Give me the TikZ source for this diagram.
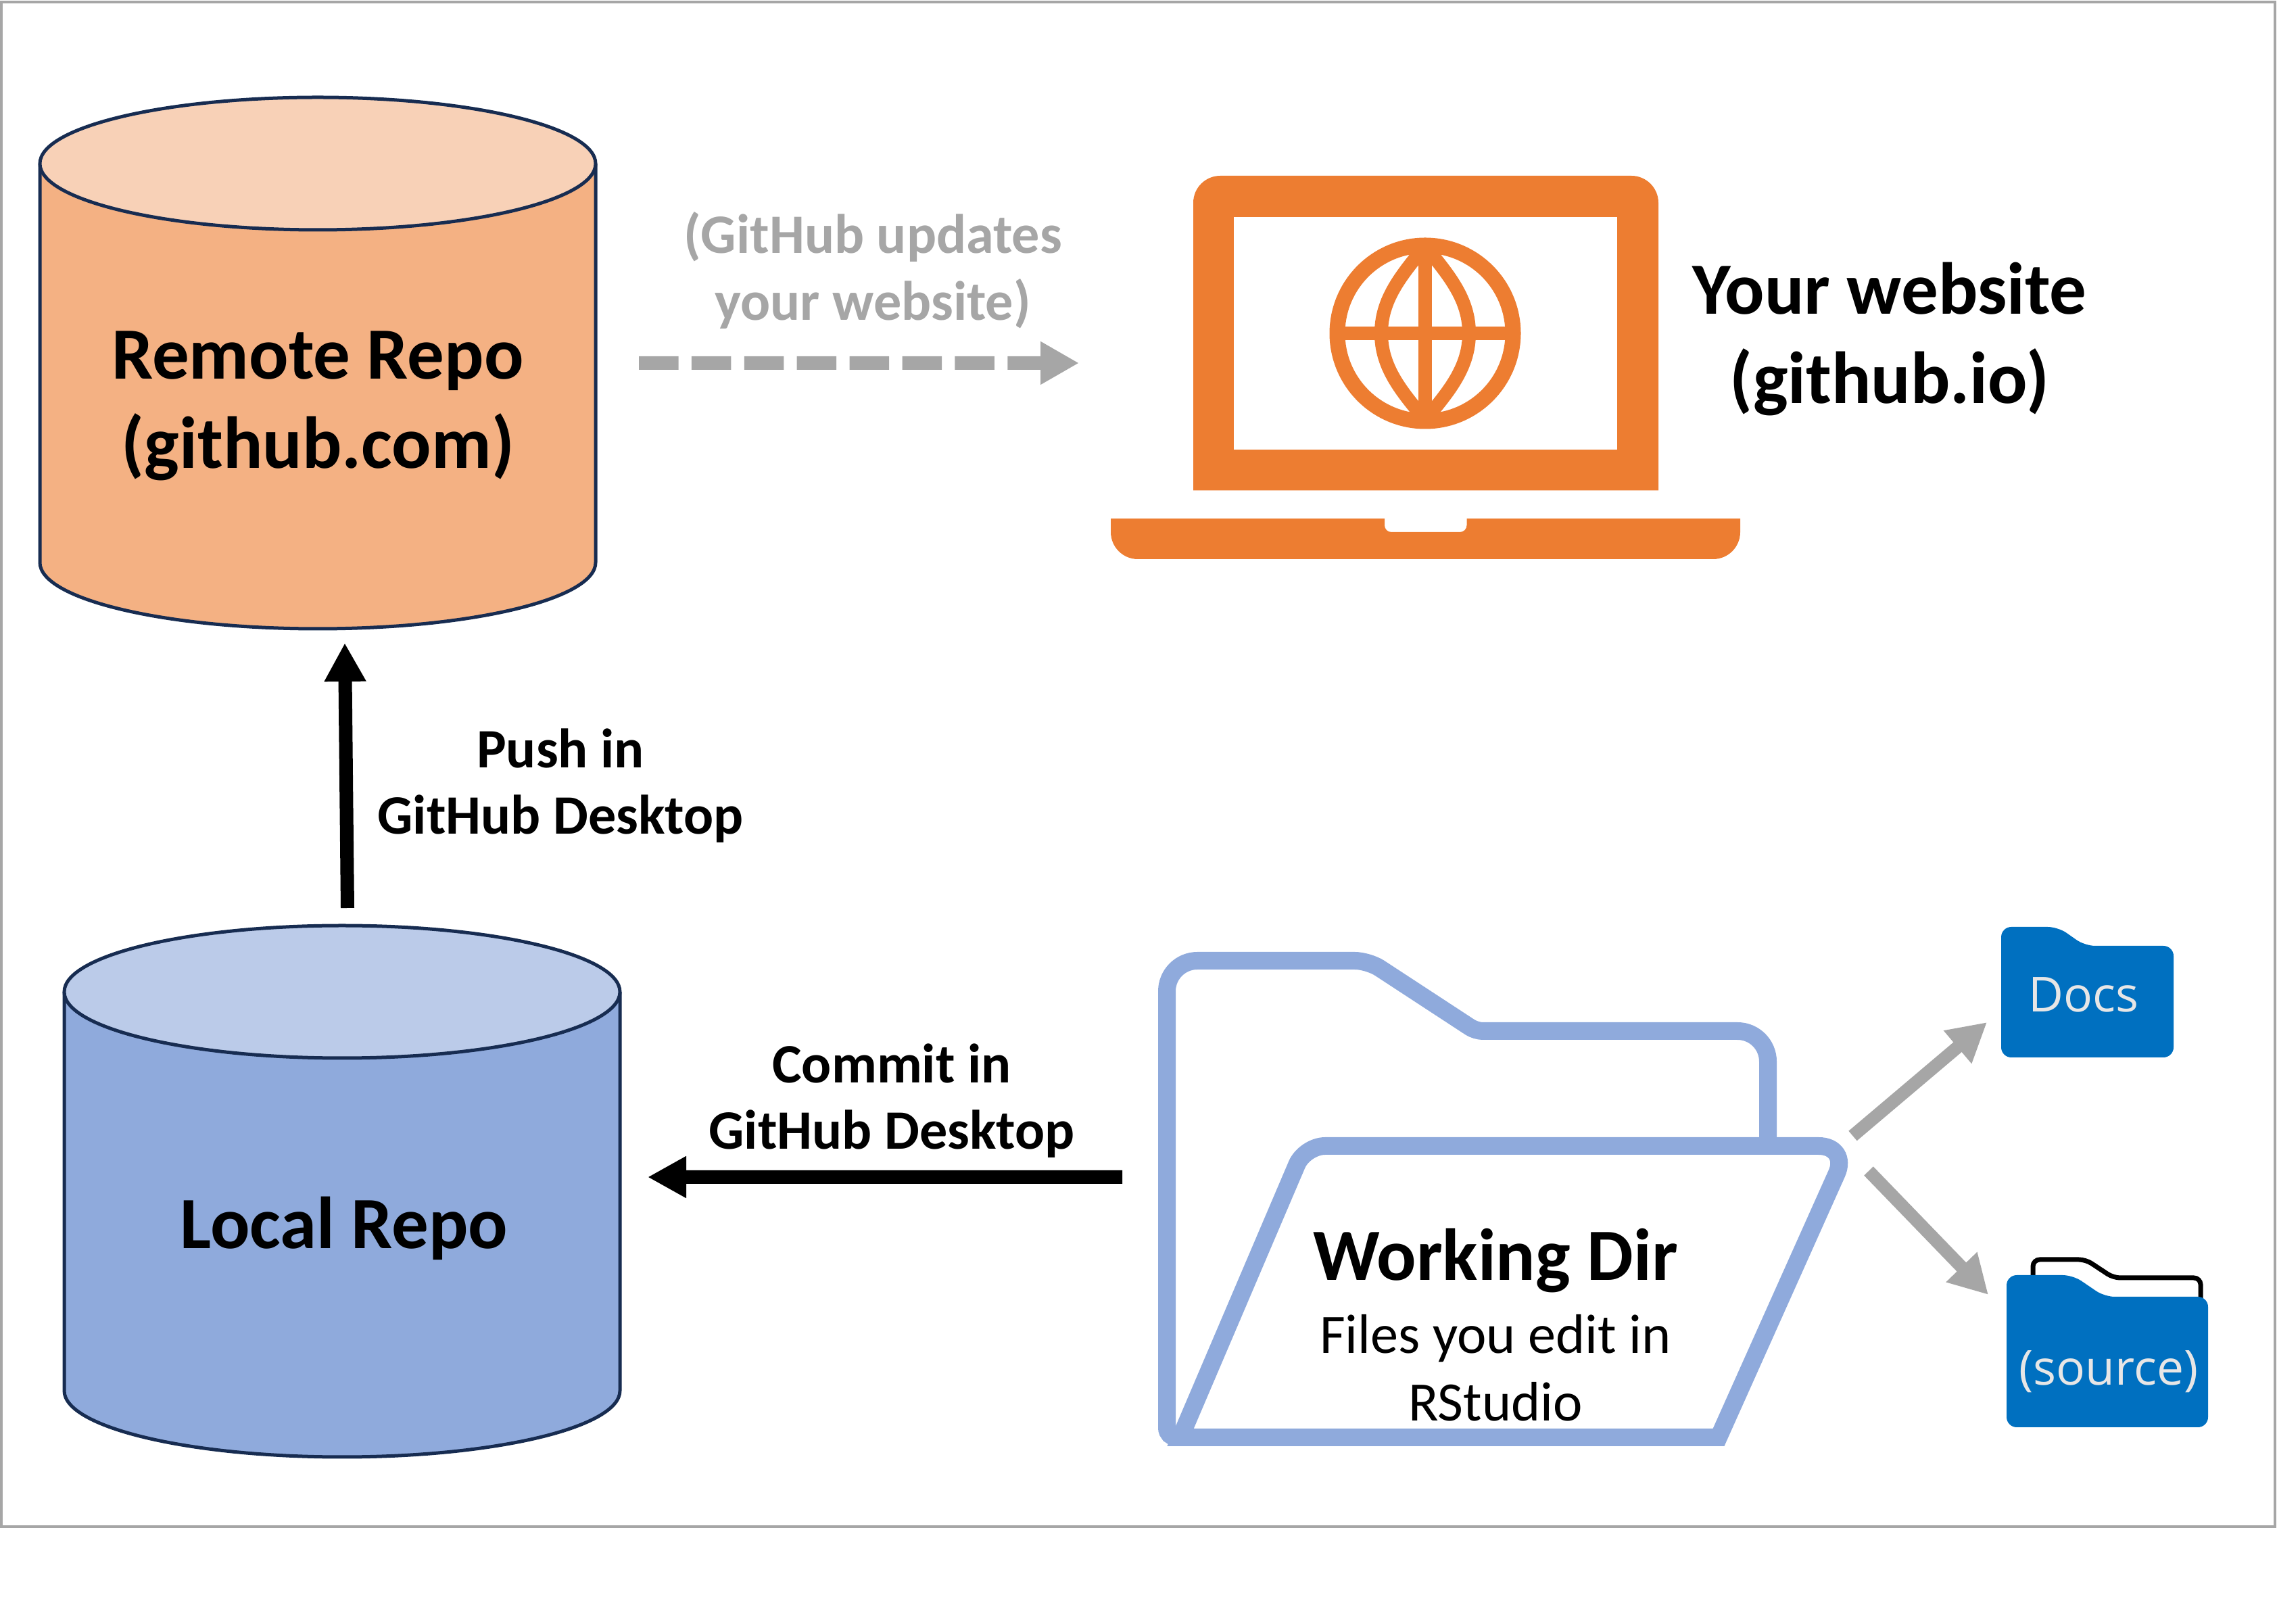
\documentclass[tikz,border=0pt]{standalone}
\usepackage{fontspec}
\setmainfont{Carlito}
\newfontfamily\foldfont{Open Sans}
\usetikzlibrary{arrows.meta}
\definecolor{ink}{HTML}{172C51}
\definecolor{frame}{HTML}{A6A6A6}
\definecolor{orangebody}{HTML}{F4B183}
\definecolor{orangetop}{HTML}{F8D1B7}
\definecolor{laptopc}{HTML}{ED7D31}
\definecolor{bluebody}{HTML}{8FAADC}
\definecolor{bluetop}{HTML}{BBCBE9}
\definecolor{foldc}{HTML}{0070C0}
\definecolor{foldtext}{HTML}{E7E6E6}

\begin{document}
\begin{tikzpicture}[
  repo/.style={draw=ink, line width=.05cm},
  bigtext/.style={align=center, font=\fontsize{31}{37.6}\selectfont\bfseries},
  armtext/.style={align=center, font=\fontsize{23.4}{28}\selectfont\bfseries},
  foldlabel/.style={font=\foldfont\fontsize{20.3}{24}\selectfont, text=foldtext, minimum width=2cm},
  push/.style={-{Triangle[length=.57cm,width=.58cm]}, black, line width=.2cm},
  branch/.style={-{Triangle[length=.57cm,width=.6cm]}, frame, line width=.19cm},
  publish/.style={-{Triangle[length=.57cm,width=.6cm]}, frame, line width=.2cm, dash pattern=on .585cm off .194cm},
  outline/.style={draw=bluebody, line width=.26cm, line join=miter},
  globe/.style={draw=laptopc, line width=.2cm},
]
\useasboundingbox (0,0) rectangle (33.68,24.01);
\draw[frame, line width=.04cm] (.02,1.43) rectangle (33.65,23.98);

% ---------- the two repos ----------
\foreach \name/\cx/\cy/\body/\lid in {remote/4.70/18.64/orangebody/orangetop, local/5.06/6.39/bluebody/bluetop} {
  \coordinate (\name) at (\cx,\cy);
  \draw[repo, fill=\body] (\cx-4.11,\cy+2.95) -- (\cx-4.11,\cy-2.95)
    arc[start angle=180, end angle=360, x radius=4.11, y radius=.98] -- (\cx+4.11,\cy+2.95);
  \draw[repo, fill=\lid] (\cx,\cy+2.95) ellipse [x radius=4.11, y radius=.98];
}
\node[bigtext] (remotetext) at (4.70,18.01) {Remote Repo\\(github.com)};
\node[bigtext] (localtext) at (5.09,5.84) {Local Repo};

% ---------- laptop with globe ----------
\coordinate (laptop) at (21.085,18.575);
\fill[laptopc] (17.65,16.755) [rounded corners=.4cm] -- (17.65,21.41) -- (24.53,21.41)
  [sharp corners] -- (24.53,16.755) -- cycle;
\fill[white] (18.25,17.36) rectangle (23.92,20.80);
\fill[laptopc] (16.43,16.34) [rounded corners=.4cm] -- (16.43,15.74) -- (25.74,15.74)
  [sharp corners] -- (25.74,16.34) -- (21.695,16.34) [rounded corners=.1cm] -- (21.695,16.14) -- (20.48,16.14)
  [sharp corners] -- (20.48,16.34) -- cycle;
\draw[laptopc, line width=.23cm] (21.08,19.08) circle (1.30);
\draw[globe] (19.78,19.08) -- (22.38,19.08);
\draw[globe] (21.08,20.38) -- (21.08,17.78);
\foreach \s in {-1,1}
  \draw[globe] (21.08,20.37) .. controls (21.08+\s*.36,19.93) and (21.08+\s*.65,19.58) .. (21.08+\s*.65,19.08)
    .. controls (21.08+\s*.65,18.58) and (21.08+\s*.36,18.23) .. (21.08,17.80);
\node[bigtext] (sitetext) at (27.95,18.995) {Your website\\(github.io)};

% ---------- working dir folder ----------
\coordinate (workdir) at (22.23,6.275);
\draw[outline] (17.50,2.75) [rounded corners=.14cm] -- (17.26,2.75)
  [rounded corners=.45cm] -- (17.26,9.80) [rounded corners=.2cm] -- (20.24,9.80)
  [rounded corners=.1cm] -- (21.83,8.76)
  [rounded corners=.45cm] -- (26.15,8.76) [sharp corners] -- (26.15,7.06);
\draw[outline] (17.46,2.75) [rounded corners=.3cm] -- (19.30,7.06)
  [rounded corners=.45cm] -- (27.35,7.06) [sharp corners] -- (25.42,2.75) -- cycle;
\node[align=center, font=\fontsize{23.4}{28.6}\selectfont] (worktext) at (22.12,4.415)
  {{\fontsize{31}{37.6}\selectfont\bfseries Working Dir}\\[2.2pt] Files you edit in\\RStudio};

% ---------- small folders ----------
\fill[foldc] [rounded corners=.15cm] (29.60,8.37) -- (29.60,10.30) -- (30.44,10.30) -- (30.84,10.02)
  -- (32.15,10.02) -- (32.15,8.37) -- cycle;
\node[foldlabel] (docs) at (30.82,9.30) {Docs};

\draw[black, line width=.07cm] (30.07,5.00) [rounded corners=.1cm] -- (30.07,5.38) -- (30.85,5.38)
  -- (31.26,5.11) -- (32.55,5.11) [sharp corners] -- (32.55,4.70);
\fill[foldc] [rounded corners=.15cm] (29.68,2.90) -- (29.68,5.15) -- (30.66,5.15) -- (31.13,4.83)
  -- (32.66,4.83) -- (32.66,2.90) -- cycle;
\node[foldlabel] (source) at (31.19,3.72) {(source)};

% ---------- arrows and their labels ----------
\draw[publish] ([shift={(4.75,0)}]remote) -- ([shift={(-5.125,.065)}]laptop);
\draw[push] ([shift={(.08,4.19)}]local) -- ([shift={(.40,-4.14)}]remote);
\draw[push] ([shift={(-5.63,.325)}]workdir) -- ([shift={(4.52,.21)}]local);
\draw[branch] ([shift={(5.175,.935)}]workdir) -- ([shift={(-1.43,-.41)}]docs.center);
\draw[branch] ([shift={(5.41,.415)}]workdir) -- ([shift={(-1.78,1.14)}]source.center);

\node[armtext, text=frame] (publishtext) at (12.91,20.01) {(GitHub updates\\your website)};
\node[armtext] (pushtext) at (8.29,12.39) {Push in\\GitHub Desktop};
\node[armtext] (committext) at (13.19,7.73) {Commit in\\GitHub Desktop};

\end{tikzpicture}
\end{document}
